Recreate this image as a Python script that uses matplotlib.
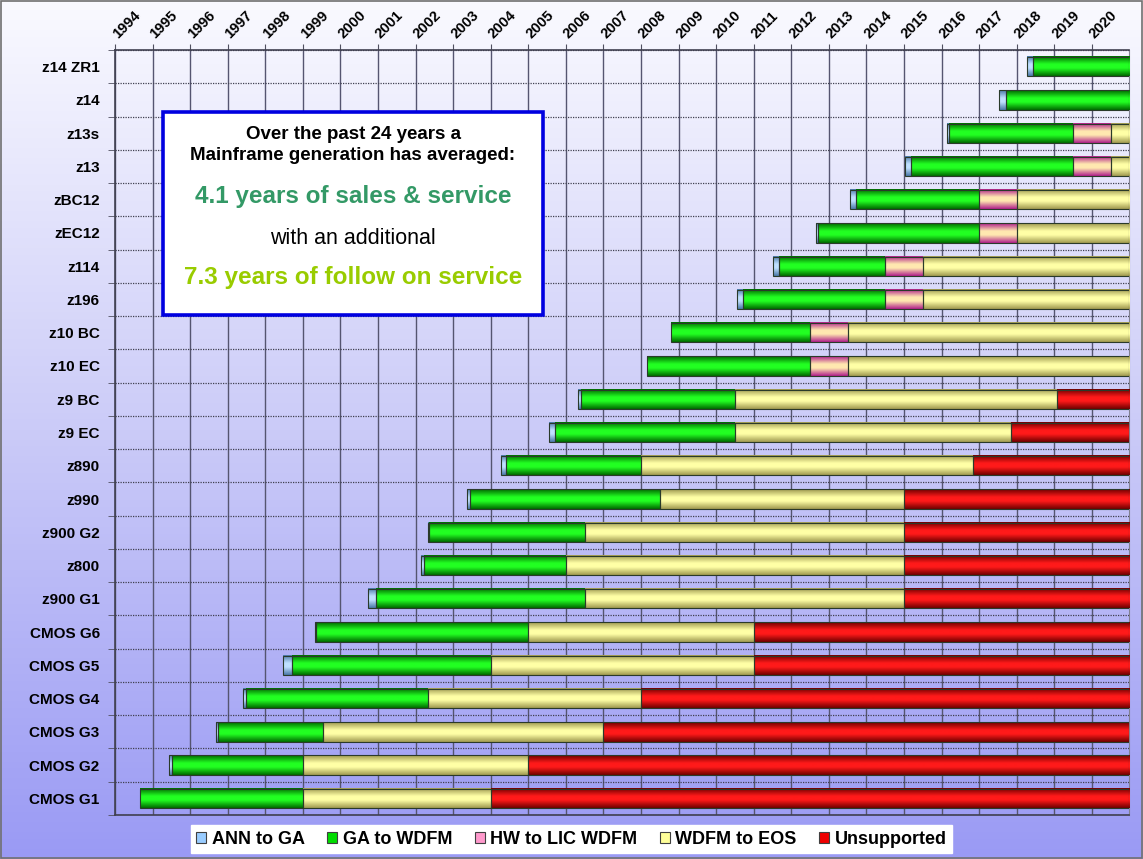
import numpy as np
import matplotlib
matplotlib.use('Agg')
import matplotlib.pyplot as plt
import matplotlib.transforms as mtransforms
from matplotlib.colors import LinearSegmentedColormap
from matplotlib.patches import Patch, Rectangle

plt.rcParams['font.family'] = ['Liberation Sans', 'DejaVu Sans']

# Data (years, fractional)
models = ['z14 ZR1', 'z14', 'z13s', 'z13', 'zBC12', 'zEC12', 'z114', 'z196',
          'z10 BC', 'z10 EC', 'z9 BC', 'z9 EC', 'z890', 'z990', 'z900 G2', 'z800',
          'z900 G1', 'CMOS G6', 'CMOS G5', 'CMOS G4', 'CMOS G3', 'CMOS G2', 'CMOS G1']
ann_start = [2018.28, 2017.54, 2016.14, 2015.03, 2013.56, 2012.65, 2011.52, 2010.55,
             2008.80, 2008.15, 2006.32, 2005.56, 2004.27, 2003.36, 2002.32, 2002.14,
             2000.74, 1999.33, 1998.46, 1997.42, 1996.69, 1995.44, 1994.67]
ga_start = [2018.43, 2017.71, 2016.21, 2015.19, 2013.72, 2012.72, 2011.68, 2010.71,
            2008.80, 2008.15, 2006.40, 2005.71, 2004.41, 2003.45, 2002.37, 2002.22,
            2000.94, 1999.34, 1998.72, 1997.49, 1996.74, 1995.53, 1994.67]
hw_start = [2021, 2021, 2019.5, 2019.5, 2017.0, 2017.0, 2014.5, 2014.5,
            2012.5, 2012.5, 2010.5, 2010.5, 2008.0, 2008.5, 2006.5, 2006.0,
            2006.5, 2005.0, 2004.0, 2002.32, 1999.53, 1999.0, 1999.0]
wdfm_start = [2021, 2021, 2020.5, 2020.5, 2018.0, 2018.0, 2015.5, 2015.5,
              2013.5, 2013.5, 2010.5, 2010.5, 2008.0, 2008.5, 2006.5, 2006.0,
              2006.5, 2005.0, 2004.0, 2002.32, 1999.53, 1999.0, 1999.0]
unsup_start = [2021, 2021, 2021, 2021, 2021, 2021, 2021, 2021,
               2021, 2021, 2019.08, 2017.86, 2016.83, 2015.0, 2015.0, 2015.0,
               2015.0, 2011.0, 2011.0, 2008.0, 2007.0, 2005.0, 2004.0]
chart_end = 2021
years = list(range(1994, 2021))

series = ['ANN to GA', 'GA to WDFM', 'HW to LIC WDFM', 'WDFM to EOS', 'Unsupported']
# (edge shade, centre shade, legend colour)
shades = [('#4a78a8', '#bfe0ff', '#99ccff'),
          ('#006a00', '#22ff22', '#00dd00'),
          ('#b0208a', '#ffe8b0', '#ff99cc'),
          ('#a09a50', '#ffffa6', '#ffff99'),
          ('#700000', '#ff1a1a', '#ee0000')]

bounds = [ann_start, ga_start, hw_start, wdfm_start, unsup_start, [chart_end] * len(models)]

fig = plt.figure(figsize=(11.43, 8.59), dpi=100)

# background gradient + frame
bg = fig.add_axes([0, 0, 1, 1], zorder=-10)
bg_cmap = LinearSegmentedColormap.from_list('bg', ['#9a9af4', '#cbcbf8', '#fafaff'])
bg.imshow(np.linspace(0, 1, 256).reshape(-1, 1), cmap=bg_cmap, aspect='auto',
          extent=[0, 1, 0, 1], origin='lower')
bg.add_patch(Rectangle((0.001, 0.001), 0.998, 0.998, fill=False, ec='#707070', lw=1.2))
bg.set_xlim(0, 1)
bg.set_ylim(0, 1)
bg.axis('off')

ax = fig.add_axes([0.1006, 0.0512, 0.8875, 0.8906])
ax.set_facecolor('none')

y = np.arange(len(models))
bar_h = 0.58
grad = np.linspace(0, 1, 64).reshape(-1, 1)
for k, name in enumerate(series):
    left = np.array(bounds[k], dtype=float)
    width = np.array(bounds[k + 1], dtype=float) - left
    edge_c, mid_c, leg_c = shades[k]
    cmap = LinearSegmentedColormap.from_list(name, [(0, edge_c), (0.4, mid_c),
                                                    (0.6, mid_c), (1, edge_c)])
    for yi, l, w in zip(y, left, width):
        if w <= 0:
            continue
        ax.imshow(grad, cmap=cmap, aspect='auto', interpolation='bilinear',
                  extent=(l, l + w, yi + bar_h / 2, yi - bar_h / 2),
                  origin='upper', zorder=3)
    outline = [w if w > 0 else np.nan for w in width]
    ax.barh(y, outline, left=left, height=bar_h, fill=False,
            edgecolor='#2a3a2a', lw=0.8, zorder=3.2)

ax.set_xlim(1994, chart_end)
ax.set_ylim(len(models) - 0.5, -0.5)

# x axis on top
ax.xaxis.tick_top()
ax.set_xticks(years)
ax.tick_params(axis='x', which='major', length=4, pad=4, color='#505060')
ax.set_xticklabels([str(v) for v in years], rotation=45, ha='left', va='bottom',
                   rotation_mode='anchor', fontweight='bold', fontsize=10.5)
shift = mtransforms.ScaledTranslation(5 / 100, -2 / 100, fig.dpi_scale_trans)
for tick in ax.xaxis.get_major_ticks():
    tick.label2.set_transform(tick.label2.get_transform() + shift)

ax.set_yticks(y)
ax.set_yticklabels(models, fontweight='bold', fontsize=11)
ax.set_yticks(np.arange(-0.5, len(models)), minor=True)
ax.tick_params(axis='y', which='major', length=0, pad=11)
ax.tick_params(axis='y', which='minor', length=5, color='#505060')

ax.grid(axis='x', which='major', color='#555570', lw=1.0, zorder=1)
ax.grid(axis='y', which='minor', color='#404050', lw=0.9, ls=(0, (1, 1)), zorder=1)
ax.set_axisbelow(True)
for side in ['top', 'left', 'bottom']:
    ax.spines[side].set_color('#404050')
    ax.spines[side].set_linewidth(1.2)
ax.spines['right'].set_color('#808090')
ax.spines['right'].set_linewidth(0.8)

# summary box
box_x, box_y, box_w, box_h = 0.1426, 0.6333, 0.3325, 0.2363
fig.patches.append(Rectangle((box_x, box_y), box_w, box_h, transform=fig.transFigure,
                             fc='white', ec='#0000e0', lw=2.6, zorder=5))
cx = box_x + box_w / 2
fig.text(cx, 0.8440, 'Over the past 24 years a', ha='center', va='center',
         fontsize=13.5, fontweight='bold', zorder=6)
fig.text(cx, 0.8184, 'Mainframe generation has averaged:', ha='center', va='center',
         fontsize=13.5, fontweight='bold', zorder=6)
fig.text(cx, 0.7718, '4.1 years of sales & service', ha='center', va='center',
         fontsize=17.5, fontweight='bold', color='#339966', zorder=6)
fig.text(cx, 0.7229, 'with an additional', ha='center', va='center',
         fontsize=15.5, zorder=6)
fig.text(cx, 0.6764, '7.3 years of follow on service', ha='center', va='center',
         fontsize=17.5, fontweight='bold', color='#99cc00', zorder=6)

# legend
handles = [Patch(facecolor=s[2], edgecolor='#404040', lw=0.8) for s in shades]
leg = fig.legend(handles, series, loc='center', bbox_to_anchor=(0.5, 0.023), ncol=5,
                 frameon=True, fancybox=False, framealpha=1, edgecolor='white',
                 handlelength=0.55, handleheight=0.55, handletextpad=0.3,
                 columnspacing=1.25, borderpad=0.3,
                 prop={'weight': 'bold', 'size': 13})

fig.savefig('out.png', dpi=100)
